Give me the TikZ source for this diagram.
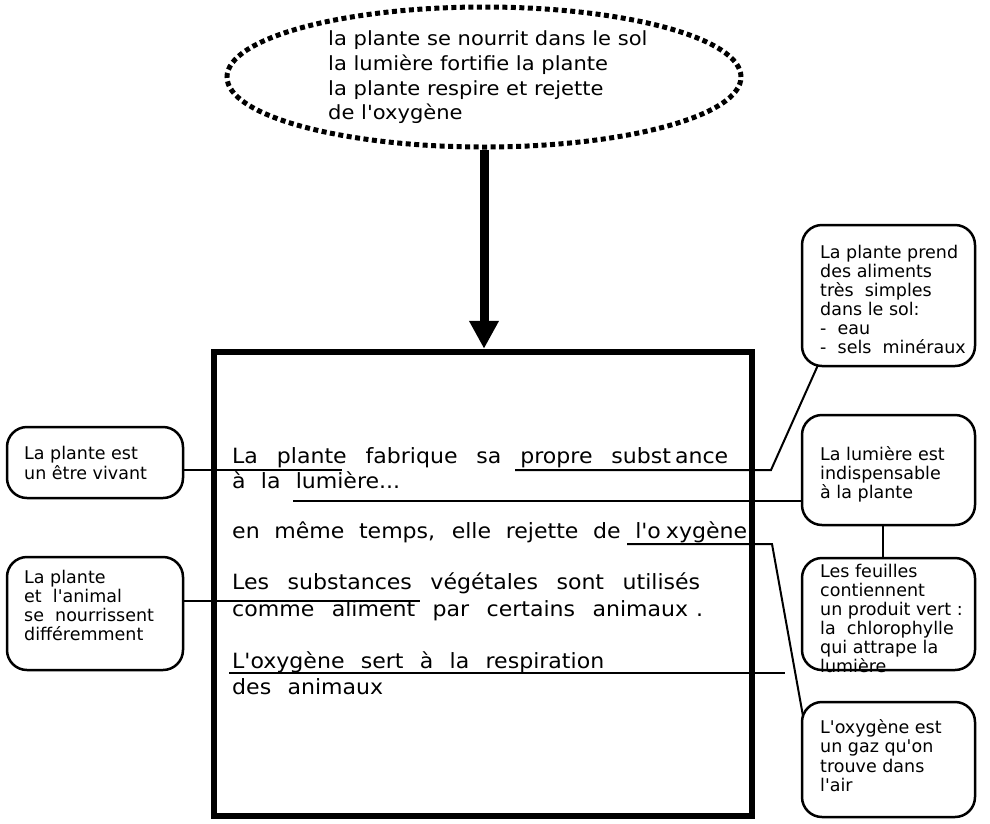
\documentclass[tikz,border=0pt]{standalone}
\usepackage{fontspec}
\newfontfamily\djv{DejaVu Sans}
\newfontfamily\djvwide{DejaVu Sans}[FakeStretch=1.08]
\newfontfamily\djvmid{DejaVu Sans}[FakeStretch=1.05]
\usetikzlibrary{shapes.geometric,arrows.meta}
\newcommand{\sidefnt}{\djv\fontsize{17.5}{20}\selectfont}
\newcommand{\boxfnt}{\djvmid\fontsize{21}{24}\selectfont}
\newcommand{\ellfnt}{\djvwide\fontsize{19.5}{23}\selectfont}
\begin{document}
\begin{tikzpicture}[x=1pt,y=-1pt,
  sbox/.style={draw, line width=2.5pt, rounded corners=20pt, inner sep=0pt, minimum width=173pt},
  lbox/.style={draw, line width=2.5pt, rounded corners=20pt, inner sep=0pt, minimum width=176pt},
  stxt/.style={anchor=base west, inner sep=0pt, font=\sidefnt},
  mtxt/.style={anchor=base west, inner sep=0pt, font=\boxfnt},
  etxt/.style={anchor=base west, inner sep=0pt, font=\ellfnt},
  conn/.style={line width=2pt},
]
\useasboundingbox (0,0) rectangle (990,823);

% top ellipse
\node[ellipse, draw, line width=5pt, dash pattern=on 5pt off 3.5pt,
      minimum width=514pt, minimum height=140pt, inner sep=0pt] (ell) at (484,77) {};
\node[etxt] (e1) at (328,45) {la plante se nourrit dans le sol};
\node[etxt] (e2) at (328,70) {la lumière fortifie la plante};
\node[etxt] (e3) at (328,95) {la plante respire et rejette};
\node[etxt] (e4) at (328,119) {de l'oxygène};

% main box
\node[draw, line width=6.5pt, minimum width=538pt, minimum height=464pt, inner sep=0pt] (mbox) at (483,584) {};
\draw[line width=9pt, -{Triangle[length=28pt,width=28pt]}] (ell.south) -- (ell.south |- mbox.north);

\node[mtxt] (m1) at (232,463) {\makebox[496pt][s]{La plante fabrique sa propre subst\kern4pt{}ance}};
\node[mtxt] (m2) at (232,488) {\makebox[168pt][s]{à la lumière...}};
\node[mtxt] (m3) at (232,538) {\makebox[515pt][s]{en même temps, elle rejette de l'o\kern5pt{}xygène}};
\node[mtxt] (m4) at (232,589) {\makebox[468pt][s]{Les substances végétales sont utilisés}};
\node[mtxt] (m5) at (232,616) {\makebox[471pt][s]{comme aliment par certains animaux\kern8pt{}.}};
\node[mtxt] (m6) at (232,668) {\makebox[372pt][s]{L'oxygène sert à la respiration}};
\node[mtxt] (m7) at (232,694) {\makebox[151pt][s]{des animaux}};

% right boxes
\node[sbox, minimum height=141pt] (R1) at (888.5,295.5) {};
\node[sbox, minimum height=110pt] (R2) at (888.5,470) {};
\node[sbox, minimum height=112pt] (R3) at (888.5,614) {};
\node[sbox, minimum height=115pt] (R4) at (888.5,759.5) {};
% left boxes
\node[lbox, minimum height=71pt] (L1) at (95,462.5) {};
\node[lbox, minimum height=113pt] (L2) at (95,613.5) {};

\foreach \t [count=\i from 0] in {La plante prend, des aliments, très\ \ simples, dans le sol:, -\ \ eau, -\ \ sels\ \ minéraux}
  \node[stxt] (r1t\i) at (820,{258+19*\i}) {\t};
\foreach \t [count=\i from 0] in {La lumière est, indispensable, à la plante}
  \node[stxt] (r2t\i) at (820,{460+19*\i}) {\t};
\foreach \t [count=\i from 0] in {Les feuilles, contiennent, un produit vert :, la\ \ chlorophylle, qui attrape la, lumière}
  \node[stxt] (r3t\i) at (820,{577+19*\i}) {\t};
\foreach \t [count=\i from 0] in {L'oxygène est, un gaz qu'on, trouve dans, l'air}
  \node[stxt] (r4t\i) at (820,{733+19.6*\i}) {\t};
\foreach \t [count=\i from 0] in {La plante est, un être vivant}
  \node[stxt] (l1t\i) at (24,{459+20*\i}) {\t};
\foreach \t [count=\i from 0] in {La plante, et\ \ l'animal, se\ \ nourrissent, différemment}
  \node[stxt] (l2t\i) at (24,{583+19*\i}) {\t};

% connectors
\coordinate (u1) at (342,470);
\draw[conn] (L1.east |- u1) -- (u1);
\coordinate (u2a) at (515,470);
\coordinate (u2b) at (771,470);
\coordinate (u2c) at (818,365);
\draw[conn] (u2a) -- (u2b) -- (u2c);
\coordinate (u3) at (293,501);
\draw[conn] (u3) -- (R2.west |- u3);
\coordinate (u4a) at (627,544);
\coordinate (u4b) at (772,544);
\coordinate (u4c) at (803,716);
\draw[conn] (u4a) -- (u4b) -- (u4c);
\coordinate (u5) at (420,601);
\draw[conn] (L2.east |- u5) -- (u5);
\coordinate (u6a) at (229,673);
\coordinate (u6b) at (785,673);
\draw[conn] (u6a) -- (u6b);
\draw[conn] ([xshift=-5.5pt]R2.south) -- ([xshift=-5.5pt]R3.north);
\end{tikzpicture}
\end{document}
